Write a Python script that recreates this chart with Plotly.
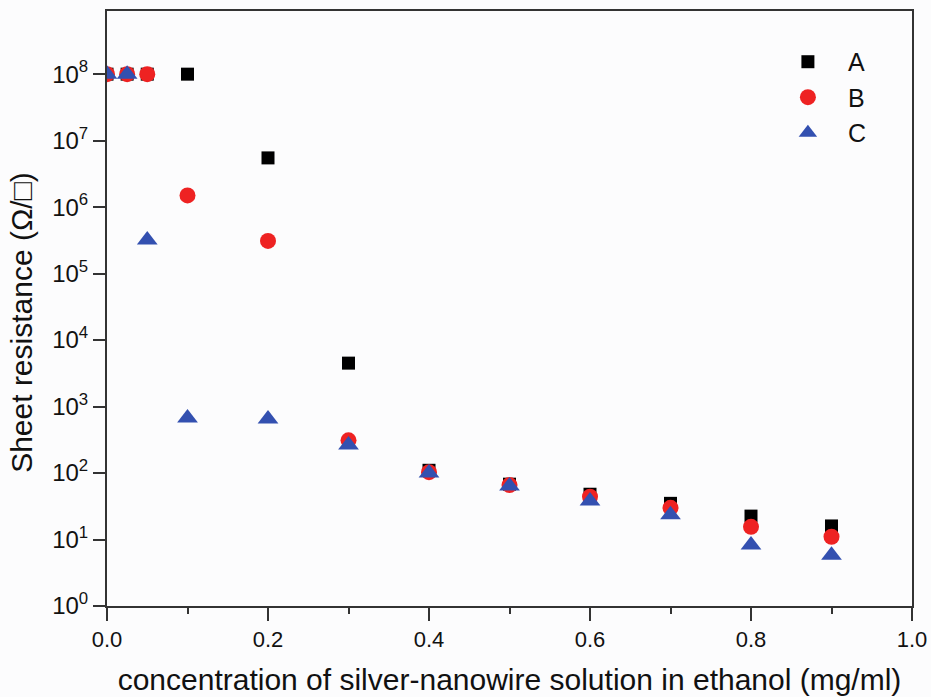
import plotly.graph_objects as go

x_vals = [0, 0.025, 0.05, 0.1, 0.2, 0.3, 0.4, 0.5, 0.6, 0.7, 0.8, 0.9]
series_A = [1e8, 1e8, 1e8, 1e8, 5.5e6, 4.5e3, 110, 68, 48, 35, 22.5, 16]
series_B = [1e8, 1e8, 1e8, 1.5e6, 3.1e5, 310, 103, 66, 44, 30, 15.5, 11]
series_C = [1e8, 1e8, 3.2e5, 670, 650, 265, 100, 64, 38, 23.5, 8.3, 5.8]

ytick_vals = [1, 10, 100, 1e3, 1e4, 1e5, 1e6, 1e7, 1e8]
ytick_text = ["10<sup>%d</sup>" % i for i in range(9)]
xtick_vals = [0.0, 0.2, 0.4, 0.6, 0.8, 1.0]
xtick_text = ["0.0", "0.2", "0.4", "0.6", "0.8", "1.0"]
x_title = "concentration of silver-nanowire solution in ethanol (mg/ml)"
y_title = "Sheet resistance (Ω/□)"

fig = go.Figure()
fig.add_trace(go.Scatter(x=x_vals, y=series_A, mode="markers", name="A",
                         marker=dict(symbol="square", size=13, color="#000000")))
fig.add_trace(go.Scatter(x=x_vals, y=series_B, mode="markers", name="B",
                         marker=dict(symbol="circle", size=16, color="#ee2222")))
fig.add_trace(go.Scatter(x=x_vals, y=series_C, mode="markers", name="C",
                         marker=dict(symbol="triangle-up", size=18, color="#3350b0")))

font = "Liberation Sans, Arial, sans-serif"
fig.update_layout(
    width=931, height=697,
    margin=dict(l=107, r=19, t=11, b=91),
    paper_bgcolor="#fcfcfd", plot_bgcolor="#fcfcfd",
    font=dict(family=font, color="#111111", size=24),
    showlegend=True,
    legend=dict(x=0.821, y=0.953, xanchor="left", yanchor="top",
                bgcolor="rgba(0,0,0,0)", font=dict(size=25, family=font),
                itemwidth=70, tracegroupgap=0),
    xaxis=dict(range=[0, 1], tickvals=xtick_vals, ticktext=xtick_text,
               ticks="outside", ticklen=13, tickwidth=2, tickcolor="#333",
               showline=True, linewidth=2, linecolor="#333", mirror=True,
               showgrid=False, zeroline=False, automargin=False,
               minor=dict(ticks="outside", ticklen=6, tickwidth=2, tickcolor="#333", dtick=0.1),
               tickfont=dict(size=22),
               title=dict(text=x_title, font=dict(size=30), standoff=18)),
    yaxis=dict(type="log", range=[0, 8.95], tickvals=ytick_vals, ticktext=ytick_text,
               ticks="outside", ticklen=12, tickwidth=2, tickcolor="#333",
               showline=True, linewidth=2, linecolor="#333", mirror=True,
               showgrid=False, zeroline=False, automargin=False,
               tickfont=dict(size=24)),
    annotations=[dict(text=y_title, xref="paper", yref="paper", x=-0.106, y=0.477,
                      xanchor="center", yanchor="middle", textangle=-90, showarrow=False,
                      font=dict(size=30, family=font, color="#111111"))],
)

fig.write_html("out.html", config={"displayModeBar": False},
               post_script="document.body.style.margin='0';document.body.style.overflow='hidden';")
